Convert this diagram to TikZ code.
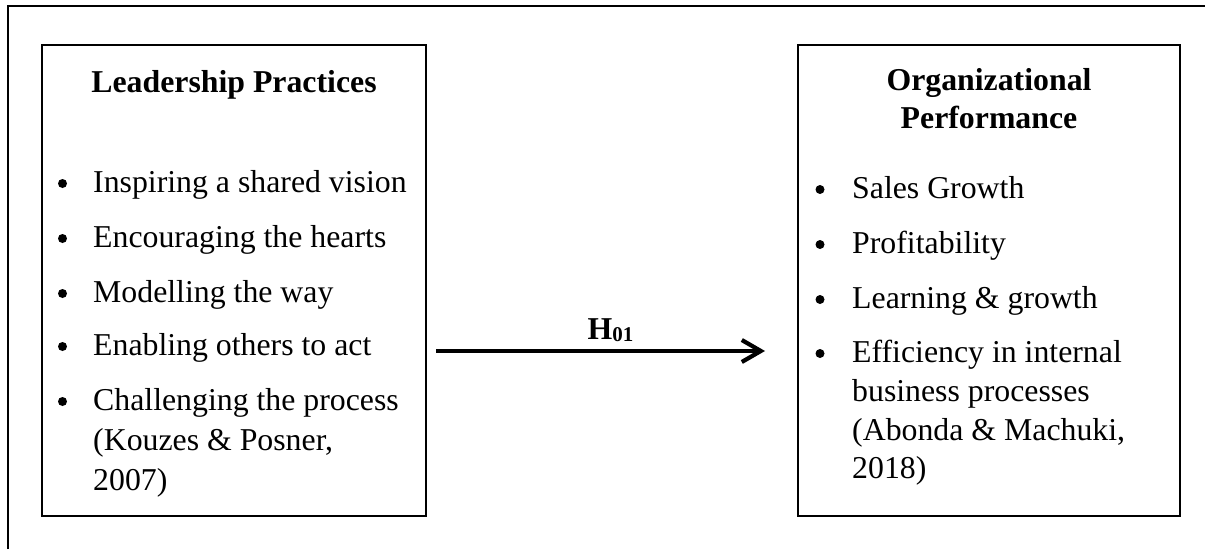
\documentclass[tikz,border=0pt]{standalone}
\usepackage{fontspec}
\setmainfont{Liberation Serif}
\usetikzlibrary{arrows.meta}
\begin{document}
\begin{tikzpicture}[x=1pt,y=-1pt,
  frame/.style={line width=2.7pt},
  box/.style={draw, line width=2.7pt, inner sep=0pt, outer sep=0pt, anchor=north west},
  txt/.style={anchor=base west, inner sep=0pt, font=\fontsize{31.8}{40}\selectfont},
  ttl/.style={anchor=base, inner sep=0pt, font=\fontsize{31.8}{40}\selectfont\bfseries},
  dot/.style={circle, fill, inner sep=0pt, minimum size=9pt},
  link/.style={line width=4.2pt, -{Straight Barb[length=19pt,width=22pt,line width=4.2pt]}}
]
\useasboundingbox (0,0) rectangle (1205,549);
\draw[frame] (8,549) -- (8,6) -- (1205,6);

% left box
\node[box, minimum width=384pt, minimum height=471pt] (lbox) at (42,45) {};
\node[ttl] (ltitle) at (234,92) {Leadership Practices};
\node[dot] (lb1) at (62.5,183.5) {};
\node[txt] (l1) at (93,192) {Inspiring a shared vision};
\node[dot] (lb2) at (62.5,238.5) {};
\node[txt] (l2) at (93,247) {Encouraging the hearts};
\node[dot] (lb3) at (62.5,293.5) {};
\node[txt] (l3) at (93,302) {Modelling the way};
\node[dot] (lb4) at (62.5,346.5) {};
\node[txt] (l4) at (93,355) {Enabling others to act};
\node[dot] (lb5) at (62.5,401.5) {};
\node[txt] (l5) at (93,410) {Challenging the process};
\node[txt] (l6) at (93,450) {(Kouzes \& Posner,};
\node[txt] (l7) at (93,490) {2007)};

% right box
\node[box, minimum width=382pt, minimum height=471pt] (rbox) at (798,45) {};
\node[ttl] (rtitle1) at (989,90) {Organizational};
\node[ttl] (rtitle2) at (989,128) {Performance};
\node[dot] (rb1) at (820,189.5) {};
\node[txt] (r1) at (852,198) {Sales Growth};
\node[dot] (rb2) at (820,244.5) {};
\node[txt] (r2) at (852,253) {Profitability};
\node[dot] (rb3) at (820,299.5) {};
\node[txt] (r3) at (852,308) {Learning \& growth};
\node[dot] (rb4) at (820,353.5) {};
\node[txt] (r4) at (852,362) {Efficiency in internal};
\node[txt] (r5) at (852,401) {business processes};
\node[txt] (r6) at (852,440) {(Abonda \& Machuki,};
\node[txt] (r7) at (852,478) {2018)};

% hypothesis arrow
\coordinate (hs) at (436,351);
\coordinate (he) at (765,351);
\draw[link] (hs) -- (he);
\node[anchor=base, inner sep=0pt, font=\fontsize{31.8}{40}\selectfont\bfseries] (hlabel) at (610.5,339) {H\raisebox{-2pt}{\fontsize{21}{21}\selectfont 01}};
\end{tikzpicture}
\end{document}
